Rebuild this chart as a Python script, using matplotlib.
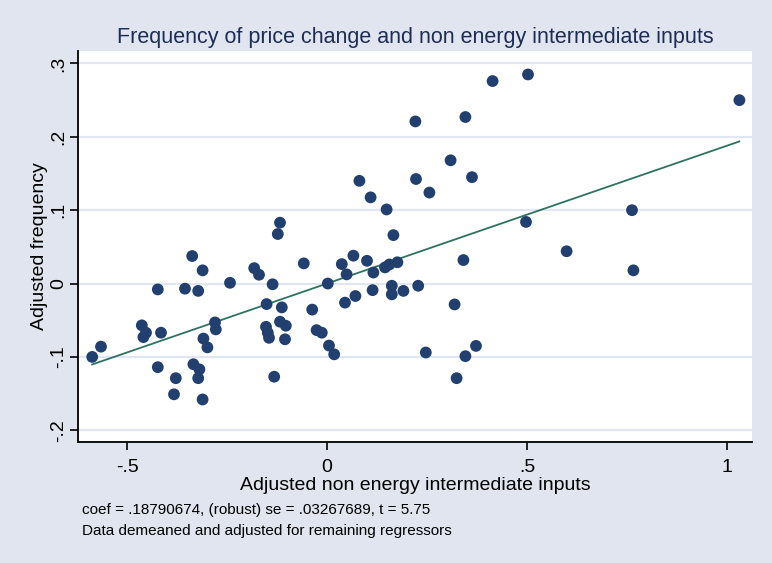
import numpy as np
import matplotlib
matplotlib.use("Agg")
import matplotlib.pyplot as plt

plt.rcParams['font.family'] = ['Liberation Sans Narrow', 'Liberation Sans', 'DejaVu Sans']

# residual of non energy intermediate inputs (x) and of frequency (y)
x_adj = [-0.587, -0.565, -0.463, -0.4525, -0.459, -0.423, -0.423, -0.415, -0.3825, -0.378,
         -0.355, -0.337, -0.334, -0.322, -0.322, -0.319, -0.311, -0.311, -0.309, -0.299,
         -0.280, -0.278, -0.2425, -0.182, -0.170, -0.1525, -0.151, -0.148, -0.145, -0.136,
         -0.132, -0.123, -0.1175, -0.1175, -0.113, -0.105, -0.103, -0.058, -0.037, -0.026,
         -0.013, 0.002, 0.005, 0.018, 0.037, 0.045, 0.049, 0.066, 0.071, 0.081,
         0.100, 0.109, 0.114, 0.116, 0.145, 0.149, 0.156, 0.162, 0.162, 0.166,
         0.176, 0.191, 0.221, 0.2225, 0.228, 0.247, 0.256, 0.309, 0.319, 0.324,
         0.341, 0.346, 0.346, 0.3625, 0.3725, 0.414, 0.4975, 0.5025, 0.599, 0.7625,
         0.766, 1.031]
y_adj = [-0.100, -0.086, -0.057, -0.067, -0.073, -0.008, -0.114, -0.067, -0.151, -0.129,
         -0.007, 0.0375, -0.110, -0.010, -0.129, -0.117, 0.018, -0.158, -0.075, -0.087,
         -0.053, -0.0625, 0.001, 0.021, 0.012, -0.059, -0.028, -0.067, -0.074, -0.001,
         -0.127, 0.0675, 0.083, -0.052, -0.0325, -0.076, -0.0575, 0.0275, -0.0355, -0.0635,
         -0.067, 0.000, -0.0845, -0.0965, 0.0265, -0.026, 0.0125, 0.038, -0.017, 0.140,
         0.031, 0.1175, -0.009, 0.015, 0.022, 0.101, 0.026, -0.003, -0.0147, 0.066,
         0.029, -0.010, 0.221, 0.1425, -0.003, -0.094, 0.124, 0.168, -0.0285, -0.129,
         0.032, 0.227, -0.099, 0.145, -0.085, 0.276, 0.084, 0.285, 0.044, 0.100,
         0.018, 0.250]

coef = 0.18790674
x_ticks = [-0.5, 0, 0.5, 1]
x_labels = ['-.5', '0', '.5', '1']
y_ticks = [-0.2, -0.1, 0, 0.1, 0.2, 0.3]
y_labels = ['-.2', '-.1', '0', '.1', '.2', '.3']

bg = '#E0E5EF'
navy = '#22406F'
txt = '#1E2D55'

fig = plt.figure(figsize=(7.72, 5.63), dpi=100, facecolor=bg)
ax = fig.add_axes([78/772, 1-442/563, (752-78)/772, (442-51)/563])
ax.set_facecolor('white')

ax.scatter(x_adj, y_adj, s=72, color=navy, edgecolors='none', zorder=3)
xs = np.array([min(x_adj), max(x_adj)])
ax.plot(xs, coef*xs, color='#2E7261', lw=1.3, zorder=2)

ax.set_xlim(-0.6225, 1.0625)
ax.set_ylim(-0.216, 0.317)
ax.set_xticks(x_ticks)
ax.set_xticklabels(x_labels, fontsize=14)
ax.set_yticks(y_ticks)
ax.set_yticklabels(y_labels, fontsize=14, rotation=90, va='center')
ax.grid(axis='y', color='#E0E6F3', lw=1.5, zorder=0)
ax.grid(axis='x', visible=False)
ax.set_axisbelow(True)

for s in ['top', 'right']:
    ax.spines[s].set_visible(False)
for s in ['left', 'bottom']:
    ax.spines[s].set_color('black')
    ax.spines[s].set_linewidth(1.3)
ax.tick_params(direction='out', length=6, width=1.2, colors='black', labelcolor='black')
ax.tick_params(axis='x', pad=6)
ax.tick_params(axis='y', pad=2)

ax.set_xlabel('Adjusted non energy intermediate inputs', fontsize=14, labelpad=1)
ax.set_ylabel('Adjusted frequency', fontsize=14)
ax.yaxis.set_label_coords((48-78)/674, 0.5)
fig.text(0.538, 1-37/563, 'Frequency of price change and non energy intermediate inputs',
         ha='center', va='center', fontsize=15.5, color=txt)

fig.text(82/772, 1-510/563, 'coef = .18790674, (robust) se = .03267689, t = 5.75',
         ha='left', va='center', fontsize=11)
fig.text(82/772, 1-531/563, 'Data demeaned and adjusted for remaining regressors',
         ha='left', va='center', fontsize=11)

fig.savefig('out.png', dpi=100, facecolor=bg)
